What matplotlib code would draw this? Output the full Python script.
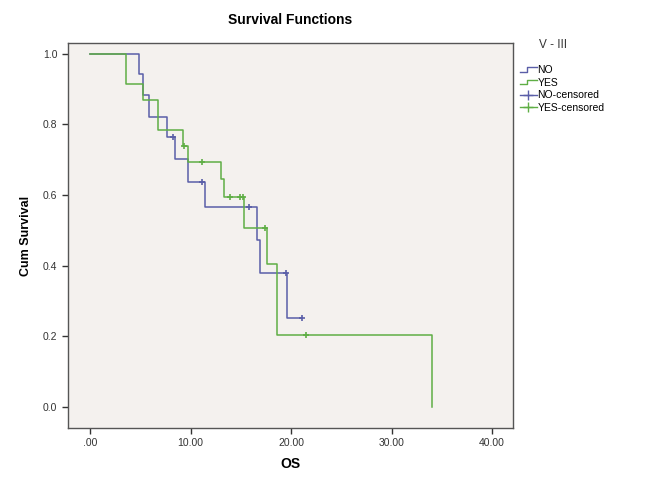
import matplotlib
matplotlib.use("Agg")
import matplotlib.pyplot as plt
from matplotlib.lines import Line2D
from matplotlib.legend_handler import HandlerBase
import numpy as np

plt.rcParams['font.family'] = ['Liberation Sans', 'DejaVu Sans']

# step data (time, survival after the step)
no_times = [0, 4.9, 5.3, 5.9, 7.7, 8.5, 9.7, 11.4, 16.6, 16.9, 19.6]
no_surv = [1.0, 0.942, 0.883, 0.822, 0.765, 0.701, 0.637, 0.567, 0.472, 0.378, 0.252]
no_end = 21.1
no_cens_t = [8.3, 11.1, 15.8, 19.5, 21.1]
no_cens_s = [0.765, 0.637, 0.567, 0.378, 0.252]

yes_times = [0, 3.6, 5.3, 6.8, 9.2, 9.7, 13.0, 13.3, 15.3, 17.6, 18.6, 34.0]
yes_surv = [1.0, 0.913, 0.870, 0.783, 0.739, 0.693, 0.645, 0.594, 0.508, 0.405, 0.204, 0.0]
yes_end = 34.0
yes_cens_t = [9.3, 11.1, 13.9, 14.9, 15.2, 17.4, 21.5]
yes_cens_s = [0.739, 0.693, 0.594, 0.594, 0.594, 0.508, 0.204]

xticks = [0, 10, 20, 30, 40]
xlabels = ['.00', '10.00', '20.00', '30.00', '40.00']
yticks = [0.0, 0.2, 0.4, 0.6, 0.8, 1.0]
ylabels = ['0.0', '0.2', '0.4', '0.6', '0.8', '1.0']

blue = '#5a5ea8'
green = '#5fae45'


class StepHandler(HandlerBase):
    def create_artists(self, legend, orig, xd, yd, w, h, fontsize, trans):
        xs = [xd, xd + w * 0.45, xd + w * 0.45, xd + w]
        ys = [yd + h * 0.2, yd + h * 0.2, yd + h * 0.8, yd + h * 0.8]
        ln = Line2D(xs, ys, color=orig.get_color(), lw=1.0, transform=trans)
        return [ln]


fig = plt.figure(figsize=(6.53, 4.84), dpi=100)
ax = fig.add_axes([0.104, 0.116, 0.682, 0.795])
ax.set_facecolor('#f4f1ee')

for t, s, end, col in [(no_times, no_surv, no_end, blue), (yes_times, yes_surv, yes_end, green)]:
    xs = list(t) + [end]
    ys = list(s) + [s[-1]]
    ax.step(xs, ys, where='post', color=col, lw=1.1)

ax.plot(no_cens_t, no_cens_s, '+', color=blue, ms=5, mew=1.2)
ax.plot(yes_cens_t, yes_cens_s, '+', color=green, ms=5, mew=1.2)

ax.set_xlim(-2.2, 42.1)
ax.set_ylim(-0.059, 1.03)
ax.set_xticks(xticks)
ax.set_xticklabels(xlabels)
ax.set_yticks(yticks)
ax.set_yticklabels(ylabels)
ax.tick_params(direction='out', length=4, width=1, labelsize=7.5, colors='#333333', top=False, right=False)
for sp in ax.spines.values():
    sp.set_color('#555555')
    sp.set_linewidth(1.0)

ax.set_xlabel('OS', fontsize=10, fontweight='bold', labelpad=6)
ax.set_ylabel('Cum Survival', fontsize=9, fontweight='bold', labelpad=8)
ax.set_title('Survival Functions', fontsize=10, fontweight='bold', pad=14)

fig.text(0.847, 1 - 45 / 484, 'V - III', fontsize=8.5, ha='center', va='center', color='#333333')

h_no = Line2D([], [], color=blue)
h_yes = Line2D([], [], color=green)
h_noc = Line2D([], [], color=blue, marker='+', ms=7, lw=1)
h_yesc = Line2D([], [], color=green, marker='+', ms=7, lw=1)
leg = fig.legend([h_no, h_yes, h_noc, h_yesc], ['NO', 'YES', 'NO-censored', 'YES-censored'],
                 handler_map={h_no: StepHandler(), h_yes: StepHandler()},
                 loc='upper left', bbox_to_anchor=(0.785, 1 - 58 / 484), frameon=False,
                 fontsize=7.5, handlelength=1.6, handletextpad=0.1, labelspacing=0.25, borderpad=0.2)

fig.savefig('out.png', dpi=100)
